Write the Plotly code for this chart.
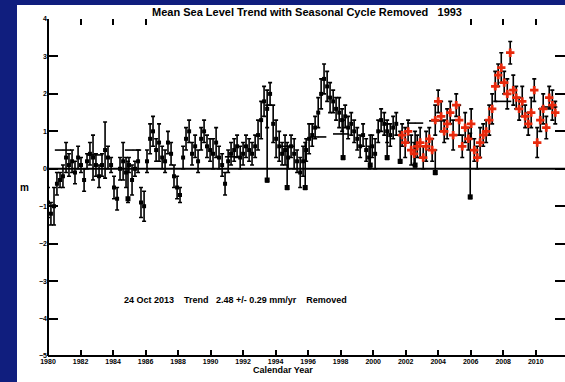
import plotly.graph_objects as go

# ---------------- data ----------------
black_years = [1980.00, 1980.18, 1980.37, 1980.55, 1980.74, 1980.92, 1981.11, 1981.29, 1981.48, 1981.66,
               1981.85, 1982.03, 1982.22, 1982.40, 1982.58, 1982.77, 1982.95, 1983.14, 1983.32, 1983.51,
               1983.69, 1983.88, 1984.06, 1984.25, 1984.43, 1984.62, 1984.80, 1984.98, 1985.17, 1985.35,
               1985.54, 1985.72, 1985.91, 1986.09, 1986.28, 1986.46, 1986.65, 1986.83, 1987.02, 1987.20,
               1987.38, 1987.57, 1987.75, 1987.94, 1988.12, 1988.31, 1988.49, 1988.68, 1988.86, 1989.05,
               1989.23, 1989.42, 1989.60, 1989.78, 1989.97, 1990.15, 1990.34, 1990.52, 1990.71, 1990.89,
               1991.08, 1991.26, 1991.45, 1991.63, 1991.82, 1992.00, 1992.18, 1992.37, 1992.55, 1992.74,
               1992.92, 1993.11, 1993.29, 1993.48, 1993.66, 1993.85, 1994.03, 1994.22, 1994.40, 1994.58,
               1994.77, 1994.95, 1995.14, 1995.32, 1995.51, 1995.69, 1995.88, 1996.06, 1996.25, 1996.43,
               1996.62, 1996.80, 1996.98, 1997.17, 1997.35, 1997.54, 1997.72, 1997.91, 1998.09, 1998.28,
               1998.46, 1998.65, 1998.83, 1999.02, 1999.20, 1999.38, 1999.57, 1999.75, 1999.94, 2000.12,
               2000.31, 2000.49, 2000.68, 2000.86, 2001.05, 2001.23, 2001.42]
black_vals = [-0.9, -1.2, -1.0, -0.4, -0.3, -0.2, 0.3, 0.1, 0.2, -0.1,
              0.3, 0.1, -0.3, 0.2, 0.4, 0.3, 0.1, -0.2, 0.1, 0.5,
              0.3, 0.1, -0.5, -0.8, 0.0, 0.2, -0.1, 0.1, -0.3, 0.0,
              0.2, -0.9, -1.0, 0.2, 0.8, 1.0, 0.5, 0.7, 0.3, 0.2,
              0.7, 0.4, -0.2, -0.5, -0.7, 0.3, 0.8, 1.0, 0.4, 0.6,
              0.2, 0.8, 1.0, 0.6, 0.5, 0.4, 0.7, 0.3, 0.1, -0.4,
              0.2, 0.4, 0.5, 0.6, 0.3, 0.4, 0.6, 0.5, 0.4, 0.6,
              0.9, 1.3, 1.8, 1.6, 2.0, 1.2, 0.8, 0.6, 0.4, 0.5,
              0.3, 0.6, 0.4, 0.2, -0.1, 0.2, 0.5, 0.8, 0.9, 1.1,
              1.5, 2.0, 2.4, 2.2, 1.9, 1.8, 1.6, 1.5, 1.3, 1.4,
              1.1, 1.2, 1.0, 0.8, 0.6, 0.9, 0.5, 0.3, 0.6, 0.4,
              1.0, 1.3, 1.2, 1.0, 0.9, 1.1, 1.2]
black_errs = [0.4, 0.3, 0.5, 0.3, 0.2, 0.3, 0.4, 0.3, 0.3, 0.3,
              0.3, 0.2, 0.3, 0.2, 0.3, 0.6, 0.3, 0.3, 0.3, 0.75,
              0.3, 0.2, 0.3, 0.3, 0.3, 0.5, 0.4, 0.2, 0.4, 0.2,
              0.3, 0.4, 0.4, 0.3, 0.4, 0.4, 0.3, 0.5, 0.3, 0.3,
              0.3, 0.3, 0.3, 0.3, 0.2, 0.3, 0.3, 0.3, 0.3, 0.3,
              0.3, 0.3, 0.3, 0.3, 0.3, 0.4, 0.4, 0.3, 0.3, 0.3,
              0.3, 0.3, 0.3, 0.3, 0.3, 0.3, 0.3, 0.3, 0.3, 0.3,
              0.4, 0.5, 0.4, 0.5, 0.3, 0.5, 0.5, 0.4, 0.3, 0.4,
              0.3, 0.3, 0.4, 0.3, 0.4, 0.4, 0.3, 0.4, 0.3, 0.3,
              0.4, 0.4, 0.4, 0.4, 0.4, 0.3, 0.3, 0.4, 0.3, 0.3,
              0.3, 0.3, 0.3, 0.3, 0.3, 0.3, 0.3, 0.3, 0.3, 0.4,
              0.3, 0.3, 0.3, 0.3, 0.3, 0.3, 0.3]

bar_years = [1984.92, 1993.48, 1994.71, 1995.82, 1998.15, 1999.82, 2000.86, 2001.66, 2002.58, 2003.82, 2005.97]
bar_vals = [-0.8, -0.3, -0.5, -0.5, 0.3, 0.1, 0.3, 0.2, 0.1, -0.1, -0.75]
bar_up = [1.0, 2.0, 1.2, 1.2, 1.0, 0.8, 0.9, 0.8, 0.9, 0.6, 1.7]
bar_down = [0.1, 0.05, 0.05, 0.05, 0.05, 0.05, 0.05, 0.05, 0.05, 0.05, 0.05]

red_years = [2001.78, 2001.97, 2002.15, 2002.34, 2002.52, 2002.71, 2002.89, 2003.08, 2003.26, 2003.45,
             2003.63, 2003.82, 2004.00, 2004.18, 2004.37, 2004.55, 2004.74, 2004.92, 2005.11, 2005.29,
             2005.48, 2005.66, 2005.85, 2006.03, 2006.22, 2006.40, 2006.58, 2006.77, 2006.95, 2007.14,
             2007.32, 2007.51, 2007.69, 2007.88, 2008.06, 2008.25, 2008.43, 2008.62, 2008.80, 2008.98,
             2009.17, 2009.35, 2009.54, 2009.72, 2009.91, 2010.09, 2010.28, 2010.46, 2010.65, 2010.83,
             2011.02, 2011.20]
red_vals = [0.9, 0.7, 1.0, 0.5, 0.4, 0.6, 0.7, 0.3, 0.6, 0.8,
            0.5, 1.3, 1.8, 1.4, 1.0, 1.2, 1.5, 0.9, 1.7, 1.3,
            0.6, 1.1, 0.8, 1.2, 0.5, 0.3, 0.7, 0.9, 1.0, 1.3,
            1.6, 2.2, 2.5, 2.7, 2.3, 2.0, 3.1, 2.1, 1.9, 1.6,
            1.8, 1.4, 1.2, 1.5, 2.1, 0.7, 1.3, 1.6, 1.1, 1.9,
            1.7, 1.5]
red_errs = [0.3, 0.4, 0.3, 0.4, 0.3, 0.3, 0.4, 0.3, 0.4, 0.3,
            0.3, 0.4, 0.3, 0.4, 0.3, 0.4, 0.3, 0.4, 0.3, 0.4,
            0.3, 0.4, 0.3, 0.4, 0.3, 0.3, 0.4, 0.3, 0.3, 0.4,
            0.4, 0.4, 0.3, 0.4, 0.3, 0.4, 0.3, 0.4, 0.3, 0.3,
            0.4, 0.3, 0.3, 0.4, 0.3, 0.4, 0.3, 0.4, 0.3, 0.3,
            0.4, 0.3]

mean_years = [1980.92, 1982.89, 1985.23, 1991.38, 1994.65, 1996.62, 1998.03, 2002.58, 2003.94, 2008.00, 2010.83]
mean_vals = [0.5, 0.37, 0.5, 0.32, 0.6, 0.85, 0.93, 1.22, 1.28, 1.8, 1.65]

x_ticks = list(range(1980, 2013, 2))
y_ticks = [-5, -4, -3, -2, -1, 0, 1, 2, 3, 4]

title_text = "Mean Sea Level Trend with Seasonal Cycle Removed   1993"
note_text = "24 Oct 2013    Trend   2.48 +/- 0.29 mm/yr    Removed"
x_title = "Calendar Year"
y_title = "m"

# ---------------- figure ----------------
BLUE = "#101e7e"
FONT = "Liberation Sans"
W, H = 565, 382
ML, MR, MT, MB = 48, 0, 19, 26
PW, PH = W - ML - MR, H - MT - MB


def px_x(p):
    return (p - ML) / PW


def px_y(p):
    return (H - MB - p) / PH


fig = go.Figure()

fig.add_trace(go.Scatter(
    x=black_years, y=black_vals, mode="markers",
    marker=dict(symbol="square", size=4, color="black"),
    error_y=dict(type="data", array=black_errs, color="black", thickness=1.6, width=2),
    showlegend=False, hoverinfo="skip"))

fig.add_trace(go.Scatter(
    x=bar_years, y=bar_vals, mode="markers",
    marker=dict(symbol="square", size=5, color="black"),
    error_y=dict(type="data", symmetric=False, array=bar_up, arrayminus=bar_down,
                 color="black", thickness=1.6, width=2),
    showlegend=False, hoverinfo="skip"))

fig.add_trace(go.Scatter(
    x=mean_years, y=mean_vals, mode="markers",
    marker=dict(size=1, color="black"),
    error_x=dict(type="constant", value=0.5, color="black", thickness=1.6, width=0),
    showlegend=False, hoverinfo="skip"))

fig.add_trace(go.Scatter(
    x=red_years, y=red_vals, mode="markers",
    marker=dict(symbol="cross", size=7, color="#e8290c"),
    error_y=dict(type="data", array=red_errs, color="black", thickness=1.6, width=2),
    showlegend=False, hoverinfo="skip"))

shapes = [
    # blue frame: left strip and top strip
    dict(type="rect", xref="paper", yref="paper", x0=px_x(0), x1=px_x(17), y0=px_y(H), y1=px_y(0),
         fillcolor=BLUE, line=dict(width=0), layer="below"),
    dict(type="rect", xref="paper", yref="paper", x0=px_x(0), x1=px_x(W), y0=px_y(5), y1=px_y(0),
         fillcolor=BLUE, line=dict(width=0), layer="below"),
    # zero line
    dict(type="line", xref="paper", yref="y", x0=0, x1=1, y0=0, y1=0,
         line=dict(color="black", width=2), layer="above"),
    # left axis line
    dict(type="line", xref="paper", yref="paper", x0=0, x1=0, y0=0, y1=1,
         line=dict(color="black", width=2), layer="above"),
    # bottom axis line
    dict(type="line", xref="paper", yref="paper", x0=0, x1=1, y0=0, y1=0,
         line=dict(color="black", width=2), layer="above"),
    # title background covering top ticks
    dict(type="rect", xref="paper", yref="paper", x0=px_x(150), x1=px_x(468), y0=px_y(27), y1=px_y(5),
         fillcolor="white", line=dict(width=0), layer="above"),
]

annotations = [
    dict(text=note_text, xref="paper", yref="paper", x=px_x(235), y=px_y(307), showarrow=False,
         font=dict(family=FONT, size=9, color="black", weight="bold")),
    dict(text=x_title, xref="paper", yref="paper", x=px_x(283), y=px_y(377), showarrow=False,
         font=dict(family=FONT, size=9, color="black", weight="bold")),
    dict(text=y_title, xref="paper", yref="paper", x=px_x(18), y=px_y(187), showarrow=False,
         font=dict(family=FONT, size=10, color="black", weight="bold")),
]

fig.update_layout(
    width=W, height=H,
    margin=dict(l=ML, r=MR, t=MT, b=MB, pad=0, autoexpand=False),
    paper_bgcolor="white", plot_bgcolor="white",
    title=dict(text=title_text, x=px_x(307), xref="paper", xanchor="center",
               y=1 - 12 / H, yref="container", yanchor="middle",
               font=dict(family=FONT, size=11, color="black", weight="bold")),
    font=dict(family=FONT, size=7, color="black"),
    shapes=shapes, annotations=annotations,
    xaxis=dict(range=[1980, 2011.8], tickvals=x_ticks, ticktext=[str(v) for v in x_ticks],
               ticks="inside", ticklen=6, tickwidth=1.5, tickcolor="black",
               showline=False, mirror="ticks", showgrid=False, zeroline=False, automargin=False,
               tickfont=dict(family=FONT, size=7, color="black", weight="bold")),
    yaxis=dict(range=[-5, 4], tickvals=y_ticks, ticks="inside", ticklen=10, tickwidth=1.5,
               tickcolor="black", showline=False, mirror="ticks", showgrid=False, zeroline=False,
               automargin=False,
               tickfont=dict(family=FONT, size=7, color="black", weight="bold")),
)

fig.write_html("out.html", config={"displayModeBar": False},
               post_script="document.body.style.margin='0';document.body.style.overflow='hidden';")
